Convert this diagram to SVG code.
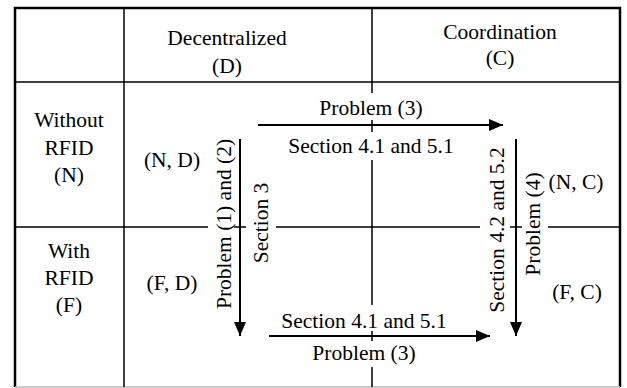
<svg xmlns="http://www.w3.org/2000/svg" width="627" height="388" viewBox="0 0 627 388">
<style>
text{font-family:"Liberation Serif","Times New Roman",serif;font-size:21.5px;fill:#000;text-anchor:middle}
.grid{stroke:#000;stroke-width:1.5;fill:none}
.outer{stroke:#000;stroke-width:2.5;fill:none}
.arr{stroke:#000;stroke-width:2;fill:none;marker-end:url(#ah)}
</style>
<defs>
<marker id="ah" markerUnits="userSpaceOnUse" markerWidth="16" markerHeight="14" refX="14" refY="7" orient="auto">
<path d="M0,1 L14,7 L0,13 Z" fill="#000"/>
</marker>
</defs>
<rect width="627" height="388" fill="#fff"/>
<g id="table">
<path class="outer" d="M15,387 V8 H620 V387"/>
<line x1="15" y1="387" x2="620" y2="387" stroke="#bbb" stroke-width="1.5"/>
<line class="grid" x1="124" y1="8" x2="124" y2="387"/>
<line class="grid" x1="15" y1="82" x2="620" y2="82"/>
<path class="grid" d="M15,227 H208 M234,227 H246 M276,227 H480 M510,227 H522 M548,227 H620"/>
<path class="grid" d="M372,8 V93 M372,120 V132 M372,160 V305 M372,331 V341 M372,367 V387"/>
</g>
<g id="header-d"><text x="227" y="45">Decentralized</text><text x="227" y="73">(D)</text></g>
<g id="header-c"><text x="500" y="39">Coordination</text><text x="500" y="65">(C)</text></g>
<g id="row-n"><text x="69" y="127">Without</text><text x="69" y="155">RFID</text><text x="69" y="182">(N)</text></g>
<g id="row-f"><text x="69" y="258">With</text><text x="69" y="285">RFID</text><text x="69" y="312">(F)</text></g>
<g id="nd"><text x="172" y="167">(N, D)</text></g>
<g id="fd"><text x="172" y="290">(F, D)</text></g>
<g id="nc"><text x="576" y="189">(N, C)</text></g>
<g id="fc"><text x="577" y="299">(F, C)</text></g>
<g id="connectors">
<line class="arr" x1="258" y1="125" x2="503" y2="125"/>
<line class="arr" x1="269" y1="336" x2="490" y2="336"/>
<line class="arr" x1="240" y1="139" x2="240" y2="336"/>
<line class="arr" x1="516" y1="139" x2="516" y2="336"/>
<text x="371" y="115">Problem (3)</text>
<text x="371" y="153">Section 4.1 and 5.1</text>
<text x="364" y="328">Section 4.1 and 5.1</text>
<text x="364" y="360">Problem (3)</text>
<text transform="translate(231,224) rotate(-90)">Problem (1) and (2)</text>
<text transform="translate(268,223) rotate(-90)">Section 3</text>
<text transform="translate(504,230) rotate(-90)">Section 4.2 and 5.2</text>
<text transform="translate(540,224) rotate(-90)">Problem (4)</text>
</g>
</svg>
